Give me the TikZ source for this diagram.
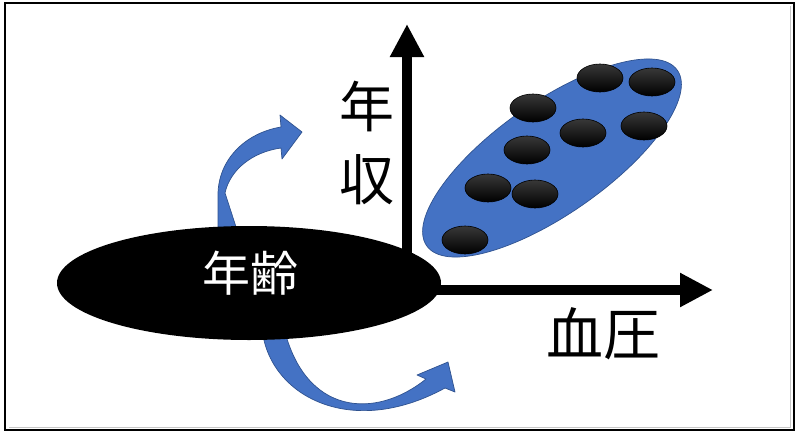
\documentclass[tikz,border=0pt]{standalone}
\usepackage{fontspec}
\newfontfamily\jp{Noto Sans CJK JP}
\usetikzlibrary{shapes.geometric,arrows.meta}
\definecolor{bandblue}{RGB}{68,114,196}
\definecolor{bandedge}{RGB}{47,82,143}
\begin{document}
\begin{tikzpicture}[x=1pt,y=-1pt,
  blueband/.style={fill=bandblue, draw=bandedge, line width=0.7pt, line join=round},
  axisline/.style={line width=10pt, -{Triangle[length=33pt,width=32pt]}},
  dot/.style={ellipse, minimum width=46pt, minimum height=28pt, inner sep=0pt,
              top color=black!78, bottom color=black, draw=black, line width=0.6pt},
  label/.style={font=\jp, inner sep=0pt, text=black}
]
\useasboundingbox (0,0) rectangle (800,434);
\fill[white] (0,0) rectangle (800,434);
% frame
\draw[gray!45, line width=1pt] (9,427) -- (790,427) -- (790,6);
\draw[black, line width=2.6pt] (5,3) rectangle (794,430);

% axes
\coordinate (O) at (407,290);
\coordinate (ytip) at (407,24);
\coordinate (xtip) at (713,290);
\draw[axisline] (O) -- (ytip);
\draw[axisline] (O) -- (xtip);

% upper curved arrow
\filldraw[blueband] (218,230) -- (218,195) .. controls (218,160) and (245,133) .. (281,127)
  -- (280,115) -- (302,132) -- (282,159) -- (281,148)
  .. controls (252,152) and (230,170) .. (225,193) -- (237,230) -- cycle;

% lower curved arrow
\filldraw[blueband] (262,328) .. controls (268,395) and (350,440) .. (445,388)
  -- (455,392) -- (448,362) -- (417,375) -- (426,379)
  .. controls (375,420) and (305,415) .. (284,328) -- cycle;

% age ellipse
\node[ellipse, fill=black, minimum width=384pt, minimum height=114pt, inner sep=0pt] (age) at (249,283) {};
\node[label, text=white, font=\jp\fontsize{48}{48}\selectfont] (agetext) at (250,273) {年齢};

% axis labels
\node[label, font=\jp\fontsize{55}{55}\selectfont] (y1) at (367,106) {年};
\node[label, font=\jp\fontsize{55}{55}\selectfont] (y2) at (367,180) {収};
\node[label, font=\jp\fontsize{57}{57}\selectfont] (xlab) at (603,334) {血圧};

% cluster
\node[ellipse, fill=bandblue, draw=bandedge, line width=0.7pt, minimum width=306pt, minimum height=112pt, rotate=35] (cluster) at (552,158) {};
\node[dot] (d1) at (600,78) {};
\node[dot] (d2) at (652,82) {};
\node[dot] (d3) at (533,108) {};
\node[dot] (d4) at (583,133) {};
\node[dot] (d5) at (644,126) {};
\node[dot] (d6) at (527,150) {};
\node[dot] (d7) at (488,188) {};
\node[dot] (d8) at (535,194) {};
\node[dot] (d9) at (465,240) {};
\end{tikzpicture}
\end{document}
